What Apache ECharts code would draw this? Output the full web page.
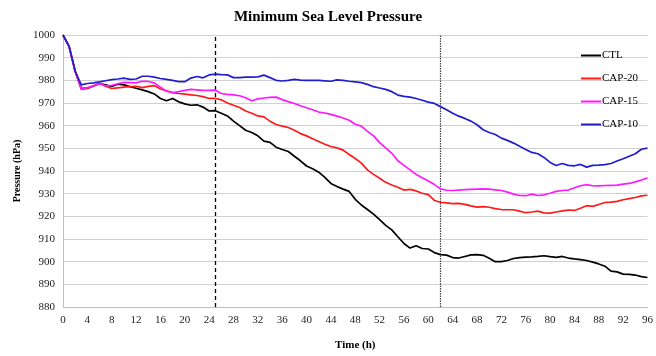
<!DOCTYPE html>
<html><head><meta charset="utf-8">
<script src="https://cdn.jsdelivr.net/npm/echarts@6/dist/echarts.min.js"></script>
<style>html,body{margin:0;padding:0;background:#fff}#c{width:656px;height:356px}</style>
</head><body><div id="c"></div>
<script>
const hours = Array.from({length: 97}, (_, i) => i);
const xTicks = [0,4,8,12,16,20,24,28,32,36,40,44,48,52,56,60,64,68,72,76,80,84,88,92,96];
const yTicks = [880,890,900,910,920,930,940,950,960,970,980,990,1000];
const markTimes = [25, 62];

const ctl = [1000,995,984,976.5,976.5,977.5,978.6,978,977.3,978.3,978,977.2,976.5,975.8,975,974,972,971,972,970.5,969.6,969,969.2,968.2,966.5,966.6,965.5,964.3,962,960,958,957,955.5,953.2,952.6,950.5,949.5,948.6,946.5,944.5,942.2,941,939.5,937.2,934.5,933.2,932,931,927.5,925,923,921,918.5,916,914,911,908,906,907,905.8,905.6,904,903.1,902.9,901.8,901.6,902.3,903,903.1,902.8,901.5,900,900,900.5,901.4,901.8,902,902.1,902.3,902.6,902.2,901.9,902.3,901.6,901.2,900.9,900.5,899.8,899,898,895.8,895.5,894.5,894.4,894.1,893.4,893];
const cap20 = [1000,995,984,976,976.4,977.5,978.6,977.4,976.4,976.7,977,977.2,977.4,976.8,977.3,977.7,976.2,975.4,974.6,974.2,973.9,973.6,973.3,972.8,972,972.1,971.4,970,969,968,966.5,965.5,964.3,963.9,962,960.5,959.8,959.2,958,956.5,955.5,954.2,953,951.8,950.8,950.2,949.2,947.3,945.5,943.5,940.5,938.5,936.8,935,933.8,932.8,931.6,931.9,931.2,930.2,929.6,927,926.2,925.9,925.6,925.7,925.3,924.6,924.1,924.3,924,923.4,923,922.9,922.9,922.3,921.6,921.9,922.3,921.5,921.4,921.9,922.4,922.8,922.6,923.6,924.7,924.4,925.2,926.1,926.3,926.6,927.3,927.8,928.3,929,929.3];
const cap15 = [1000,995,984,976.3,976.8,977.6,978.6,977.6,977.8,978.5,979.1,979,978.9,979.6,979.5,978.9,977,975.2,974.6,975,975.6,976,975.8,975.6,975.6,975.7,974.2,973.8,973.6,973.2,972.3,971,971.8,972.2,972.5,972.6,971.5,970.6,969.8,968.8,967.9,967,966,965.6,965,964.2,963.4,962.4,960.6,959.8,957.5,955.5,952.5,950.2,947.8,944.5,942.5,940.5,938.5,937,935.6,934,932.1,931.5,931.4,931.6,931.8,931.9,932,932.1,932,931.7,931.4,930.7,929.8,929.2,929.1,929.8,929.2,929.5,930.2,931,931.4,931.6,932.6,933.5,934,933.5,933.4,933.6,933.7,933.8,934.2,934.5,935.2,936,936.9];
const cap10 = [1000,995,984,978,978.6,978.9,979.3,979.8,980.3,980.6,981,980.4,980.6,981.8,981.8,981.4,980.8,980.4,980,979.4,979.4,981,981.7,981.1,982.4,982.7,982.5,982.4,981.2,981.2,981.4,981.4,981.5,982.3,981.2,980,979.7,980,980.4,980.1,980,980,980,979.8,979.6,980.2,980,979.6,979.3,979,978.2,977.2,976.6,976,975,973.5,972.9,972.6,972,971.2,970.4,969.8,968.4,967,965.5,964.2,963.2,962,960.4,958.2,957,956.1,954.5,953.5,952.3,950.9,949.5,948.2,947.6,946,943.8,942.4,943.3,942.5,942.3,942.9,941.7,942.5,942.6,942.8,943.3,944.4,945.4,946.5,947.6,949.6,950.1];

const seriesNames = ['CTL','CAP-20','CAP-15','CAP-10'];
const seriesData = [ctl, cap20, cap15, cap10];
const colors = ['#000000','#ff1a1a','#ff19ff','#1f1fcf'];

const serif = '"Liberation Serif","DejaVu Serif",serif';
const chart = echarts.init(document.getElementById('c'));
const series = seriesNames.map((n, k) => ({
  name: n, type: 'line', symbol: 'none', smooth: false,
  data: hours.map((h, i) => [h, seriesData[k][i]]),
  lineStyle: {width: 1.7, color: colors[k]}, itemStyle: {color: colors[k]},
  z: 3 + k
}));
series[0].markLine = {
  silent: true, symbol: 'none', label: {show: false},
  data: [
    {xAxis: markTimes[0], lineStyle: {type: [4, 3], color: '#000', width: 1.3}},
    {xAxis: markTimes[1], lineStyle: {type: [1.5, 1], color: '#444', width: 1.2}}
  ]
};
chart.setOption({
  animation: false,
  title: {text: 'Minimum Sea Level Pressure', left: 'center', top: 5,
    textStyle: {fontFamily: serif, fontWeight: 'bold', fontSize: 15, color: '#000'}},
  legend: {orient: 'vertical', left: 576, top: 45, itemGap: 12, itemWidth: 20, itemHeight: 2, icon: 'rect',
    textStyle: {fontFamily: serif, fontSize: 11, color: '#000', padding: [0,0,0,-4]},
    data: seriesNames},
  grid: {left: 63, right: 6, top: 35, bottom: 40},
  xAxis: {type: 'value', min: 0, max: 96, interval: 4,
    name: 'Time (h)', nameLocation: 'middle', nameGap: 33,
    nameTextStyle: {fontFamily: serif, fontWeight: 'bold', fontSize: 11, color: '#000'},
    axisLine: {lineStyle: {color: '#bfbfbf'}}, axisTick: {show: false},
    axisLabel: {fontFamily: serif, fontSize: 11, color: '#222', margin: 8,
      formatter: v => xTicks.includes(v) ? String(v) : ''},
    splitLine: {show: false}},
  yAxis: {type: 'value', min: 880, max: 1000, interval: 10,
    name: 'Pressure (hPa)', nameLocation: 'middle', nameGap: 41,
    nameTextStyle: {fontFamily: serif, fontWeight: 'bold', fontSize: 10, color: '#000'},
    axisLine: {show: true, lineStyle: {color: '#bfbfbf'}}, axisTick: {show: false},
    axisLabel: {fontFamily: serif, fontSize: 11, color: '#222', margin: 8,
      formatter: v => yTicks.includes(v) ? String(v) : ''},
    splitLine: {lineStyle: {color: '#d0d0d0', width: 1}}},
  series: series
});
</script></body></html>
